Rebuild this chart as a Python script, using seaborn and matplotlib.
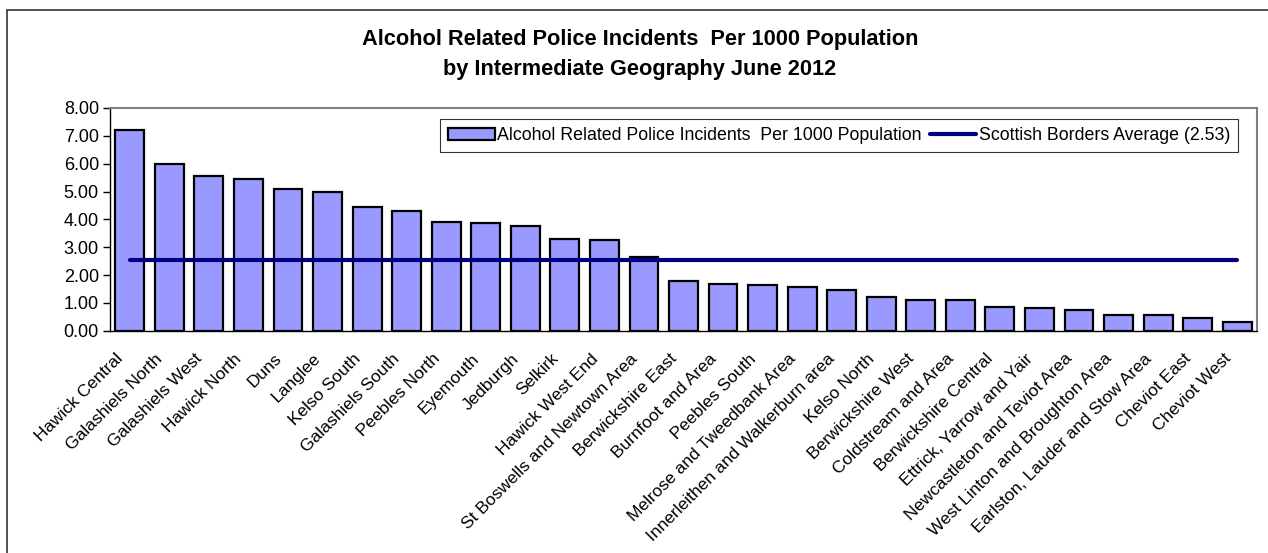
import numpy as np
import pandas as pd
import matplotlib
matplotlib.use("Agg")
import matplotlib.pyplot as plt
import seaborn as sns
from matplotlib.patches import Rectangle, Patch
from matplotlib.lines import Line2D
from matplotlib.transforms import ScaledTranslation

areas = [
    "Hawick Central", "Galashiels North", "Galashiels West", "Hawick North", "Duns",
    "Langlee", "Kelso South", "Galashiels South", "Peebles North", "Eyemouth",
    "Jedburgh", "Selkirk", "Hawick West End", "St Boswells and Newtown Area",
    "Berwickshire East", "Burnfoot and Area", "Peebles South", "Melrose and Tweedbank Area",
    "Innerleithen and Walkerburn area", "Kelso North", "Berwickshire West",
    "Coldstream and Area", "Berwickshire Central", "Ettrick, Yarrow and Yair",
    "Newcastleton and Teviot Area", "West Linton and Broughton Area",
    "Earlston, Lauder and Stow Area", "Cheviot East", "Cheviot West",
]
incidents = [
    7.20, 6.00, 5.55, 5.46, 5.08, 4.99, 4.46, 4.29, 3.92, 3.86,
    3.75, 3.30, 3.25, 2.66, 1.80, 1.68, 1.63, 1.58, 1.46, 1.21,
    1.12, 1.09, 0.86, 0.82, 0.75, 0.56, 0.55, 0.47, 0.33,
]
borders_average = 2.53
yticks = [0, 1, 2, 3, 4, 5, 6, 7, 8]

bar_label = "Alcohol Related Police Incidents  Per 1000 Population"
line_label = "Scottish Borders Average (2.53)"
title = "Alcohol Related Police Incidents  Per 1000 Population\nby Intermediate Geography June 2012"

sns.set_style("white")
plt.rcParams["font.family"] = ["Liberation Sans", "DejaVu Sans"]
plt.rcParams["text.color"] = "black"
plt.rcParams["xtick.color"] = "black"
plt.rcParams["ytick.color"] = "black"
plt.rcParams["axes.labelcolor"] = "black"

df = pd.DataFrame({"area": areas, "value": incidents})

fig = plt.figure(figsize=(12.68, 5.53), dpi=100)
ax = fig.add_axes([110 / 1268, 1 - 330.7 / 553, (1257 - 110) / 1268, (330.7 - 108) / 553])

sns.barplot(data=df, x="area", y="value", order=areas, color="#9999FF", saturation=1,
            edgecolor="black", linewidth=1.6, width=0.73, ax=ax, zorder=2)

xs = np.arange(len(areas))
ax.plot(xs, [borders_average] * len(areas), color="#000080", linewidth=3.0,
        solid_capstyle="round", zorder=3)

ax.set_xlim(-0.5, len(areas) - 0.5)
ax.set_ylim(0, 8)
ax.set_yticks(yticks)
ax.set_yticklabels([f"{v:.2f}" for v in yticks], fontsize=13)
ax.set_xlabel("")
ax.set_ylabel("")

ax.set_xticks(xs)
ax.set_xticklabels(areas, rotation=45, ha="right", va="center", rotation_mode="anchor",
                   fontsize=12.5)
ax.tick_params(axis="x", length=0, pad=12)
shift = ScaledTranslation(-9 / 100, -9 / 100, fig.dpi_scale_trans)
for lab in ax.get_xticklabels():
    lab.set_transform(lab.get_transform() + shift)
ax.set_xticks(np.arange(len(areas) + 1) - 0.5, minor=True)
ax.tick_params(axis="x", which="minor", length=5, width=1, color="black", direction="out")
ax.tick_params(axis="y", length=5, width=1, color="black", direction="out", pad=3, left=True)

for side in ["left", "bottom"]:
    ax.spines[side].set_color("black")
    ax.spines[side].set_linewidth(1.0)
for side in ["top", "right"]:
    ax.spines[side].set_color("#808080")
    ax.spines[side].set_linewidth(1.5)
    ax.spines[side].set_visible(True)

handles = [Patch(facecolor="#9999FF", edgecolor="black", linewidth=1.6),
           Line2D([0], [0], color="#000080", linewidth=3.0)]
leg = ax.legend(handles, [bar_label, line_label], ncol=2, loc="upper right",
                bbox_to_anchor=((1238 - 110) / 1147, (330.7 - 119) / 222.7),
                frameon=True, fancybox=False, fontsize=12.8, handlelength=2.6,
                handletextpad=0.15, columnspacing=0.45, borderpad=0.45, borderaxespad=0)
leg.get_frame().set_edgecolor("black")
leg.get_frame().set_linewidth(0.8)

fig.text(640 / 1268, 1 - 54.5 / 553, title, ha="center", va="center", fontsize=15.7,
         fontweight="bold", linespacing=1.5, color="black")

fig.add_artist(Rectangle((7 / 1268, -0.05), 1.2, (553 - 10) / 553 + 0.05,
                         transform=fig.transFigure, fill=False, edgecolor="#333333",
                         linewidth=1.2, clip_on=False))

fig.savefig("out.png", dpi=100)
